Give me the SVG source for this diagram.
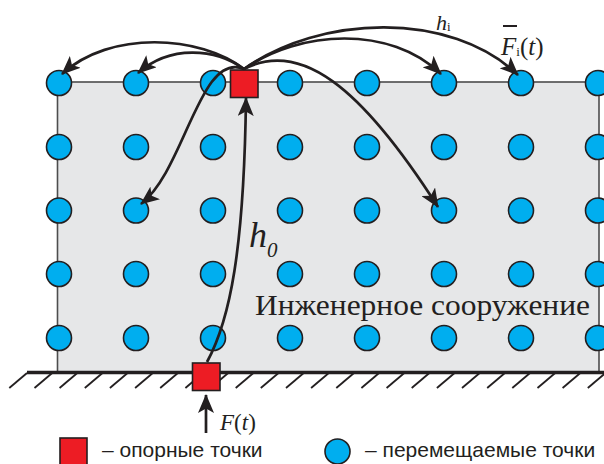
<svg xmlns="http://www.w3.org/2000/svg" width="604" height="464" viewBox="0 0 604 464">
<style>
.pt{fill:#00aeef;stroke:#231f20;stroke-width:1.6}
.sq{fill:#ed1c24;stroke:#231f20;stroke-width:1.6}
.con{fill:none;stroke:#231f20;stroke-width:2.7}
.hat{stroke:#231f20;stroke-width:1.8}
.serif{font-family:"Liberation Serif","Times New Roman",serif;fill:#231f20}
.sans{font-family:"Liberation Sans",Arial,sans-serif;fill:#231f20}
</style>
<defs>
<marker id="ah" markerUnits="userSpaceOnUse" markerWidth="20" markerHeight="16" viewBox="0 0 20 16" refX="18" refY="8" orient="auto">
<path d="M0,0 L19,8 L0,16 L4.5,8 z" fill="#231f20"/>
</marker>
</defs>
<g id="structure">
<rect x="57.5" y="82" width="541.5" height="290" fill="#e6e7e8" stroke="#4d4d4d" stroke-width="1.6"/>
<text class="serif" x="255" y="315" font-size="30" textLength="335" lengthAdjust="spacingAndGlyphs">Инженерное сооружение</text>
</g>
<g id="ground">
<line x1="27" y1="372.5" x2="604" y2="372.5" stroke="#231f20" stroke-width="3.5"/>
<g class="hat">
<line x1="27" y1="373" x2="9.3" y2="388"/>
<line x1="52.2" y1="373" x2="34.5" y2="388"/>
<line x1="77.3" y1="373" x2="59.6" y2="388"/>
<line x1="102.5" y1="373" x2="84.8" y2="388"/>
<line x1="127.6" y1="373" x2="109.9" y2="388"/>
<line x1="152.8" y1="373" x2="135.1" y2="388"/>
<line x1="177.9" y1="373" x2="160.2" y2="388"/>
<line x1="203.1" y1="373" x2="185.4" y2="388"/>
<line x1="228.2" y1="373" x2="210.5" y2="388"/>
<line x1="253.4" y1="373" x2="235.7" y2="388"/>
<line x1="278.5" y1="373" x2="260.8" y2="388"/>
<line x1="303.7" y1="373" x2="286" y2="388"/>
<line x1="328.8" y1="373" x2="311.1" y2="388"/>
<line x1="354" y1="373" x2="336.3" y2="388"/>
<line x1="379.1" y1="373" x2="361.4" y2="388"/>
<line x1="404.3" y1="373" x2="386.6" y2="388"/>
<line x1="429.4" y1="373" x2="411.7" y2="388"/>
<line x1="454.6" y1="373" x2="436.9" y2="388"/>
<line x1="479.7" y1="373" x2="462" y2="388"/>
<line x1="504.9" y1="373" x2="487.2" y2="388"/>
<line x1="530" y1="373" x2="512.3" y2="388"/>
<line x1="555.2" y1="373" x2="537.5" y2="388"/>
<line x1="580.3" y1="373" x2="562.6" y2="388"/>
<line x1="605.5" y1="373" x2="587.8" y2="388"/>
</g>
</g>
<g id="points">
<circle class="pt" cx="59" cy="83" r="12.5"/><circle class="pt" cx="136" cy="83" r="12.5"/><circle class="pt" cx="213" cy="83" r="12.5"/><circle class="pt" cx="290" cy="83" r="12.5"/><circle class="pt" cx="367" cy="83" r="12.5"/><circle class="pt" cx="444" cy="83" r="12.5"/><circle class="pt" cx="521" cy="83" r="12.5"/><circle class="pt" cx="598" cy="83" r="12.5"/>
<circle class="pt" cx="59" cy="147" r="12.5"/><circle class="pt" cx="136" cy="147" r="12.5"/><circle class="pt" cx="213" cy="147" r="12.5"/><circle class="pt" cx="290" cy="147" r="12.5"/><circle class="pt" cx="367" cy="147" r="12.5"/><circle class="pt" cx="444" cy="147" r="12.5"/><circle class="pt" cx="521" cy="147" r="12.5"/><circle class="pt" cx="598" cy="147" r="12.5"/>
<circle class="pt" cx="59" cy="210.5" r="12.5"/><circle class="pt" cx="136" cy="210.5" r="12.5"/><circle class="pt" cx="213" cy="210.5" r="12.5"/><circle class="pt" cx="290" cy="210.5" r="12.5"/><circle class="pt" cx="367" cy="210.5" r="12.5"/><circle class="pt" cx="444" cy="210.5" r="12.5"/><circle class="pt" cx="521" cy="210.5" r="12.5"/><circle class="pt" cx="598" cy="210.5" r="12.5"/>
<circle class="pt" cx="59" cy="274" r="12.5"/><circle class="pt" cx="136" cy="274" r="12.5"/><circle class="pt" cx="213" cy="274" r="12.5"/><circle class="pt" cx="290" cy="274" r="12.5"/><circle class="pt" cx="367" cy="274" r="12.5"/><circle class="pt" cx="444" cy="274" r="12.5"/><circle class="pt" cx="521" cy="274" r="12.5"/><circle class="pt" cx="598" cy="274" r="12.5"/>
<circle class="pt" cx="59" cy="338" r="12.5"/><circle class="pt" cx="136" cy="338" r="12.5"/><circle class="pt" cx="213" cy="338" r="12.5"/><circle class="pt" cx="290" cy="338" r="12.5"/><circle class="pt" cx="367" cy="338" r="12.5"/><circle class="pt" cx="444" cy="338" r="12.5"/><circle class="pt" cx="521" cy="338" r="12.5"/><circle class="pt" cx="598" cy="338" r="12.5"/>
</g>
<g id="support-top"><rect class="sq" x="230.5" y="70" width="27.5" height="27.5"/></g>
<g id="support-bottom"><rect class="sq" x="192.5" y="363" width="27.5" height="27.5"/></g>
<g id="connectors">
<path class="con" d="M244,69 C200,35 110,30 62,74" marker-end="url(#ah)"/>
<path class="con" d="M244,69 C215,48 170,45 138,73" marker-end="url(#ah)"/>
<path class="con" d="M244,69 C200,50 185,170 141,204" marker-end="url(#ah)"/>
<path class="con" d="M244,69 C300,30 390,25 441,74" marker-end="url(#ah)"/>
<path class="con" d="M244,69 C320,15 450,10 518,75" marker-end="url(#ah)"/>
<path class="con" d="M244,69 C300,40 360,85 438,207" marker-end="url(#ah)"/>
<path class="con" d="M207,362 C230,320 244,250 246,98" marker-end="url(#ah)"/>
<path class="con" d="M206,433 L206,395" marker-end="url(#ah)"/>
</g>
<g id="labels">
<text class="serif" x="436" y="30" font-size="22"><tspan font-style="italic">h</tspan><tspan font-size="13" dy="1">i</tspan></text>
<line x1="503" y1="26" x2="517" y2="26" stroke="#231f20" stroke-width="2"/>
<text class="serif" x="501" y="55" font-size="25"><tspan font-style="italic">F</tspan><tspan font-size="13" dy="1">i</tspan><tspan dy="-1">(</tspan><tspan font-style="italic">t</tspan>)</text>
<text class="serif" x="249" y="247" font-size="36" font-style="italic">h<tspan font-size="21" dy="10">0</tspan></text>
<text class="serif" x="220" y="430" font-size="23"><tspan font-style="italic">F</tspan>(<tspan font-style="italic">t</tspan>)</text>
</g>
<g id="legend">
<rect class="sq" x="60" y="438" width="27" height="27"/>
<text class="sans" x="102" y="457" font-size="21">– опорные точки</text>
<circle class="pt" cx="337.5" cy="451.5" r="12.5"/>
<text class="sans" x="365" y="457" font-size="21">– перемещаемые точки</text>
</g>
</svg>
